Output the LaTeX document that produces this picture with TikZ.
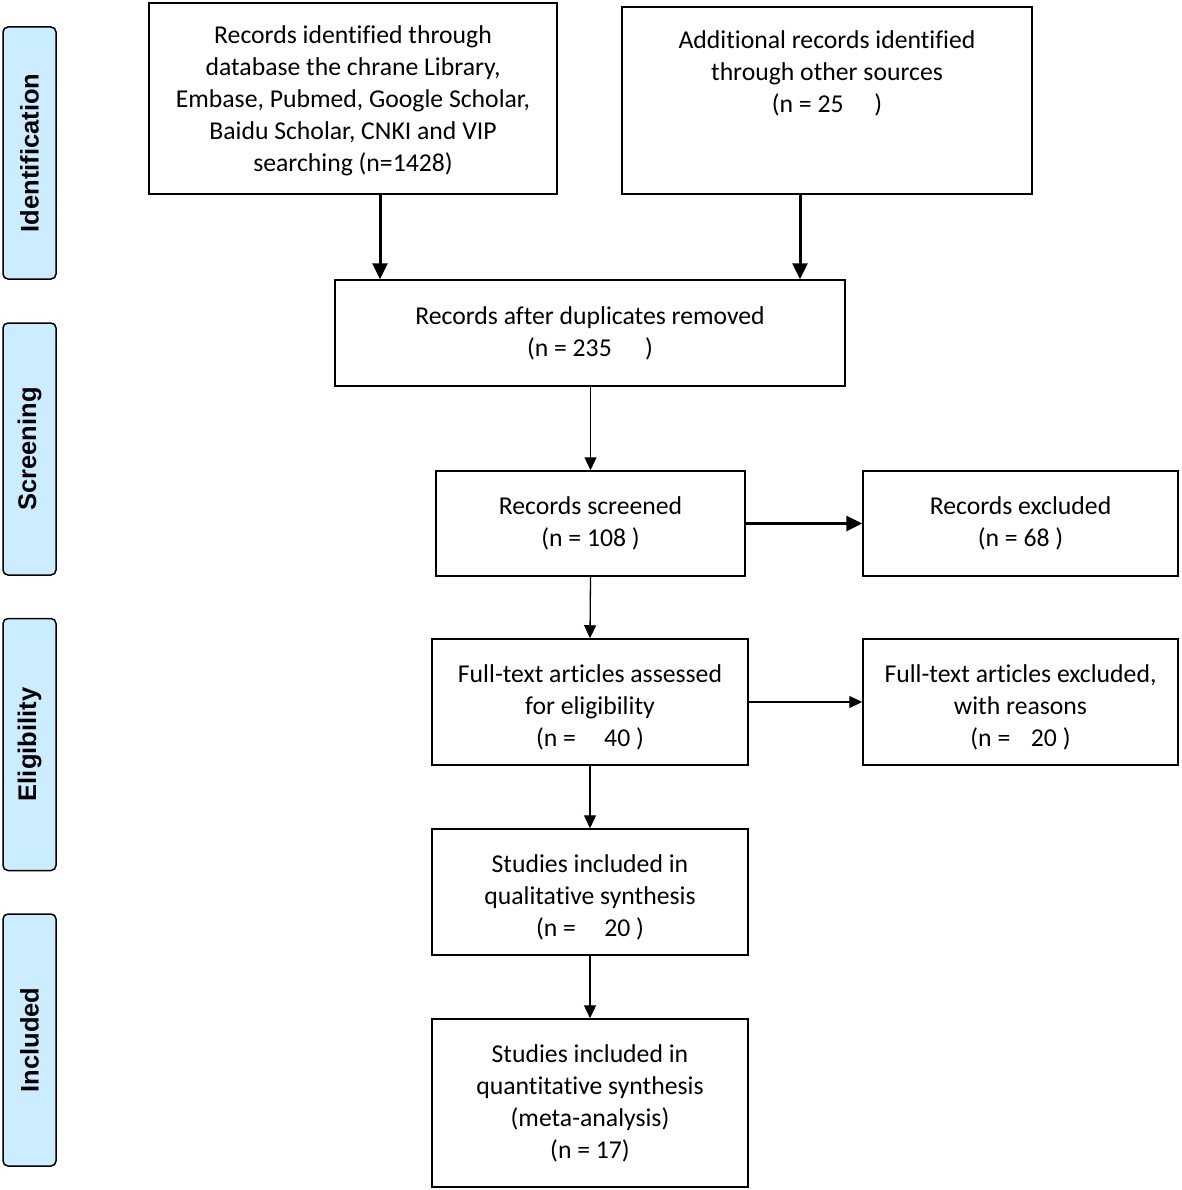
\documentclass[tikz,border=0pt]{standalone}
\usepackage{fontspec}
\setmainfont{Carlito}[Ligatures=NoCommon]
\newfontfamily\sidefont{Liberation Sans}
\usetikzlibrary{arrows.meta}
\definecolor{sideblue}{RGB}{204,236,255}
\tikzset{
  box/.style={draw=black, line width=1.5pt, fill=white, inner sep=0pt},
  txt/.style={align=center, font=\fontsize{25.7}{32}\selectfont, inner sep=0pt},
  side/.style={draw=black, line width=1.5pt, fill=sideblue, rounded corners=5pt, inner sep=0pt,
    minimum width=53pt, minimum height=252pt},
  sidetxt/.style={rotate=90, font=\sidefont\bfseries\fontsize{25.5}{30}\selectfont, inner sep=0pt},
  thick arrow/.style={line width=3pt, -{Triangle[length=16pt,width=15pt]}},
  thin arrow/.style={line width=1.3pt, -{Triangle[length=13pt,width=12pt]}},
}
\begin{document}
\begin{tikzpicture}[x=1pt,y=-1pt]
\useasboundingbox (0,0) rectangle (1181,1190);
% side labels
\node[side] (s1) at (29.5,153) {};
\node[sidetxt] (s1t) at (s1) {Identification};
\node[side] (s2) at (29.5,449) {};
\node[sidetxt] (s2t) at (s2) {Screening};
\node[side] (s3) at (29.5,744.5) {};
\node[sidetxt] (s3t) at (s3) {Eligibility};
\node[side] (s4) at (29.5,1040) {};
\node[sidetxt] (s4t) at (s4) {Included};
% boxes
\node[box, minimum width=408pt, minimum height=191pt] (b1) at (353,98.5) {};
\node[txt] (b1t) at (353,101) {Records identified through\\database the chrane Library,\\Embase, Pubmed, Google Scholar,\\Baidu Scholar, CNKI and VIP\\searching (n=1428)};
\node[box, minimum width=410pt, minimum height=187pt] (b2) at (827,100.5) {};
\node[txt] (b2t) at (827,73) {Additional records identified\\through other sources\\(n = 25\hspace{1.2em})};
\node[box, minimum width=510pt, minimum height=106pt] (b3) at (590,333) {};
\node[txt] (b3t) at (590,333) {Records after duplicates removed\\(n = 235\hspace{1.3em})};
\node[box, minimum width=309pt, minimum height=105pt] (b4) at (590.5,523.5) {};
\node[txt] (b4t) at (590.5,523) {Records screened\\(n = 108 )};
\node[box, minimum width=315pt, minimum height=105pt] (b5) at (1020.5,523.5) {};
\node[txt] (b5t) at (1020.5,523) {Records excluded\\(n = 68 )};
\node[box, minimum width=316pt, minimum height=126pt] (b6) at (590,702) {};
\node[txt] (b6t) at (590,707) {Full-text articles assessed\\for eligibility\\(n =\hspace{1.1em}40 )};
\node[box, minimum width=315pt, minimum height=126pt] (b7) at (1020.5,702) {};
\node[txt] (b7t) at (1020.5,707) {Full-text articles excluded,\\with reasons\\(n =\hspace{0.8em}20 )};
\node[box, minimum width=316pt, minimum height=126pt] (b8) at (590,892) {};
\node[txt] (b8t) at (590,897) {Studies included in\\qualitative synthesis\\(n =\hspace{1.1em}20 )};
\node[box, minimum width=316pt, minimum height=168pt] (b9) at (590,1103) {};
\node[txt] (b9t) at (590,1103) {Studies included in\\quantitative synthesis\\(meta-analysis)\\(n = 17)};
% arrows
\draw[thick arrow] (b1.south -| 380,0) -- (b3.north -| 380,0);
\draw[thick arrow] (b2.south -| 800,0) -- (b3.north -| 800,0);
\draw[thin arrow] (b3.south -| b4.north) -- (b4.north);
\draw[thick arrow] (b4.east) -- (b5.west);
\draw[thin arrow] (b4.south) -- (b6.north);
\draw[thin arrow] (b6.east) -- (b7.west);
\draw[thin arrow] (b6.south) -- (b8.north);
\draw[thin arrow] (b8.south) -- (b9.north);
\end{tikzpicture}
\end{document}
